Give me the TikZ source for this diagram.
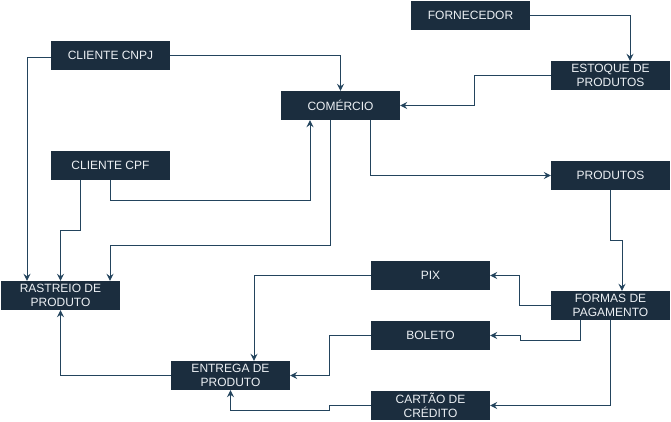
\documentclass[tikz,border=0pt]{standalone}
\usepackage{fontspec}
\setmainfont{Liberation Sans}
\usetikzlibrary{arrows.meta, calc}
\definecolor{boxnavy}{RGB}{27, 45, 62}
\definecolor{linenavy}{RGB}{35, 68, 93}
\definecolor{boxtext}{RGB}{236, 240, 244}

\begin{document}
\begin{tikzpicture}[x=1pt, y=-1pt,
    box/.style={fill=boxnavy, text=boxtext, minimum width=119pt, minimum height=29pt,
      inner sep=0pt, align=center, font=\fontsize{12}{13.5}\selectfont},
    conn/.style={draw=linenavy, line width=1pt,
      -{Stealth[length=7pt, width=7pt, inset=2.5pt]}}]
  \useasboundingbox (0,0) rectangle (671,421);

  % caixas
  \node[box] (forn)   at (470.5, 15.5)  {FORNECEDOR};
  \node[box] (est)    at (610.5, 75.5)  {ESTOQUE DE\\PRODUTOS};
  \node[box] (com)    at (340.5,105.5)  {COMÉRCIO};
  \node[box] (cnpj)   at (110.5, 55.5)  {CLIENTE CNPJ};
  \node[box] (cpf)    at (110.5,165.5)  {CLIENTE CPF};
  \node[box] (prod)   at (610.5,175.5)  {PRODUTOS};
  \node[box] (rast)   at ( 60.5,295.5)  {RASTREIO DE\\PRODUTO};
  \node[box] (ent)    at (230.5,375.5)  {ENTREGA DE\\PRODUTO};
  \node[box] (pix)    at (430.5,275.5)  {PIX};
  \node[box] (formas) at (610.5,305.5)  {FORMAS DE\\PAGAMENTO};
  \node[box] (bol)    at (430.5,335.5)  {BOLETO};
  \node[box] (cart)   at (430.5,405.5)  {CARTÃO DE\\CRÉDITO};

  % fornecedor -> estoque -> comércio
  \draw[conn] (forn.east) -| ([xshift=19.5pt]est.north);
  \draw[conn] (est.west) -- ++(-76,0) |- (com.east);

  % clientes -> comércio
  \draw[conn] (cnpj.east) -| (com.north);
  \draw[conn] (cpf.south) -- ++(0,20) -| ([xshift=-30.5pt]com.south);

  % rastreio
  \draw[conn] ([yshift=-1.5pt]cnpj.west) -| ([xshift=-33.5pt]rast.north);
  \draw[conn] ([xshift=-30.5pt]cpf.south) -- ++(0,50) -| (rast.north);
  \draw[conn] ([xshift=-10.5pt]com.south) -- ++(0,125) -| ([xshift=49.5pt]rast.north);

  % comércio -> produtos -> formas de pagamento
  \draw[conn] ([xshift=29.5pt]com.south) |- (prod.west);
  \draw[conn] (prod.south) -- ++(0,50) -| ([xshift=11.5pt]formas.north);

  % formas de pagamento
  \draw[conn] (formas.west) -- ++(-31,0) |- (pix.east);
  \draw[conn] ([xshift=-30.5pt]formas.south) -- ++(0,20) -- ++(-60,0) |- (bol.east);
  \draw[conn] (formas.south) |- (cart.east);

  % pagamento -> entrega -> rastreio
  \draw[conn] (pix.west) -| ([xshift=23.5pt]ent.north);
  \draw[conn] (bol.west) -- ++(-41,0) |- (ent.east);
  \draw[conn] (cart.west) -- ++(-41,0) -- ++(0,5) -| (ent.south);
  \draw[conn] (ent.west) -| (rast.south);
\end{tikzpicture}
\end{document}
